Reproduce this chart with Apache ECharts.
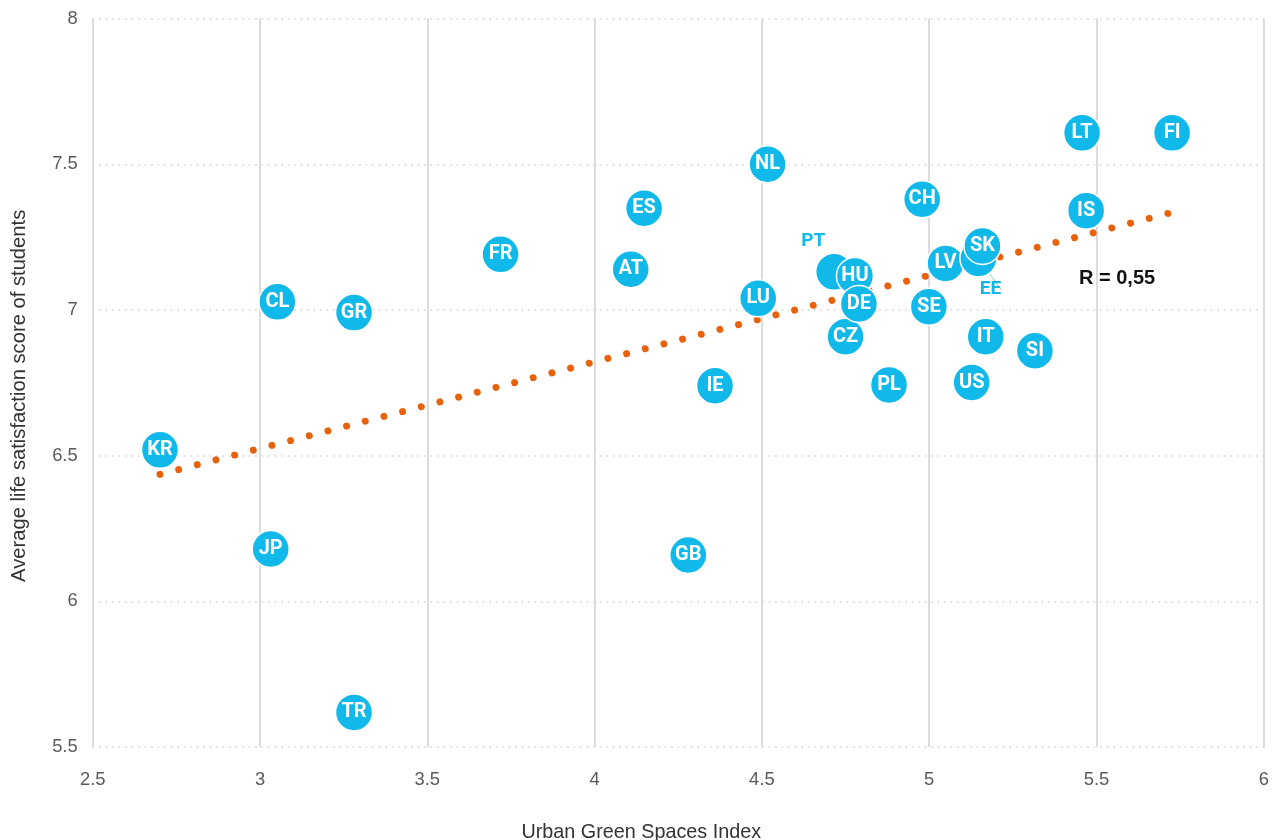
<!DOCTYPE html>
<html>
<head>
<meta charset="utf-8">
<script src="https://cdn.jsdelivr.net/npm/echarts@6/dist/echarts.min.js"></script>
<style>html,body{margin:0;padding:0;background:#fff}#c{width:1275px;height:840px}</style>
</head>
<body>
<div id="c"></div>
<script>
const countries = ['KR','JP','TR','CL','GR','FR','ES','AT','GB','IE','LU','NL','PT','HU','CZ','DE','PL','CH','SE','LV','US','EE','SK','IT','SI','LT','IS','FI'];
const greenIndex = [2.701,3.032,3.281,3.052,3.281,3.719,4.148,4.108,4.280,4.360,4.489,4.517,4.716,4.778,4.750,4.790,4.880,4.979,4.999,5.049,5.127,5.147,5.159,5.169,5.316,5.457,5.469,5.726];
const lifeSatisfaction = [6.520,6.180,5.619,7.028,6.991,7.191,7.349,7.140,6.159,6.740,7.040,7.500,7.131,7.117,6.908,7.021,6.743,7.380,7.011,7.160,6.751,7.177,7.220,6.908,6.860,7.608,7.341,7.608];
const trendX = [2.701, 5.716];
const trendY = [6.436, 7.332];
const rLabel = 'R = 0,55';
const xTicks = {min:2.5, max:6, interval:0.5};
const yTicks = {min:5.5, max:8, interval:0.5};

const BLUE = '#10B9EA';
const outsideLabels = {
  PT: {offset:[-21,-31]},
  EE: {offset:[12,31]}
};

const scatterData = countries.map((c,i) => {
  const d = {name:c, value:[greenIndex[i], lifeSatisfaction[i]]};
  if (outsideLabels[c]) {
    d.label = {show:true, position:'inside', offset:outsideLabels[c].offset, color:BLUE, fontWeight:'bold', fontSize:19};
    d.labelLine = {show:true, length2:0, lineStyle:{color:'#8cc1b0', width:1}};
  }
  return d;
});

const SANS = '"Liberation Sans", Arial, sans-serif';
const chart = echarts.init(document.getElementById('c'));
chart.setOption({
  animation:false,
  textStyle:{fontFamily:SANS},
  grid:{left:92.7, right:11.2, top:18.6, bottom:92.9, containLabel:false, outerBoundsMode:'none'},
  xAxis:{
    type:'value', min:xTicks.min, max:xTicks.max, interval:xTicks.interval,
    name:'Urban Green Spaces Index', nameLocation:'middle', nameGap:75,
    nameTextStyle:{fontSize:19.8, color:'#333', fontFamily:SANS, padding:[0,74,0,0]},
    axisLine:{show:false}, axisTick:{show:false},
    axisLabel:{fontSize:18.4, color:'#5a5a5a', margin:24, fontFamily:SANS},
    splitLine:{show:true, lineStyle:{color:'#dcdcdc', width:2, type:'solid'}}
  },
  yAxis:{
    type:'value', min:yTicks.min, max:yTicks.max, interval:yTicks.interval,
    name:'Average life satisfaction score of students', nameLocation:'middle', nameGap:63,
    nameTextStyle:{fontSize:20.2, color:'#333', fontFamily:SANS, padding:[0,0,0,-26]},
    axisLine:{show:false}, axisTick:{show:false},
    axisLabel:{fontSize:18.4, color:'#5a5a5a', margin:15, fontFamily:SANS},
    splitLine:{show:true, lineStyle:{color:'#cfcfcf', width:1.5, type:[1.5,5]}}
  },
  series:[
    {
      type:'line', z:1, silent:true, symbol:'none',
      data: trendX.map((x,i)=>[x, trendY[i]]),
      lineStyle:{color:'#E8620C', width:7, type:[0.01,19.27], cap:'round'}
    },
    {
      type:'scatter', z:3, symbolSize:37,
      itemStyle:{color:BLUE, borderColor:'#fff', borderWidth:1.5, opacity:1},
      label:{show:true, position:'inside', formatter:p=>p.name, color:'#fff', fontSize:20, fontWeight:'bold', fontFamily:'Roboto, sans-serif'},
      data: scatterData
    }
  ],
  graphic:[{
    type:'text', left:1079, top:268,
    style:{text:rLabel, fontSize:20, fontWeight:'bold', fill:'#111', fontFamily:SANS}
  }]
});
</script>
</body>
</html>
